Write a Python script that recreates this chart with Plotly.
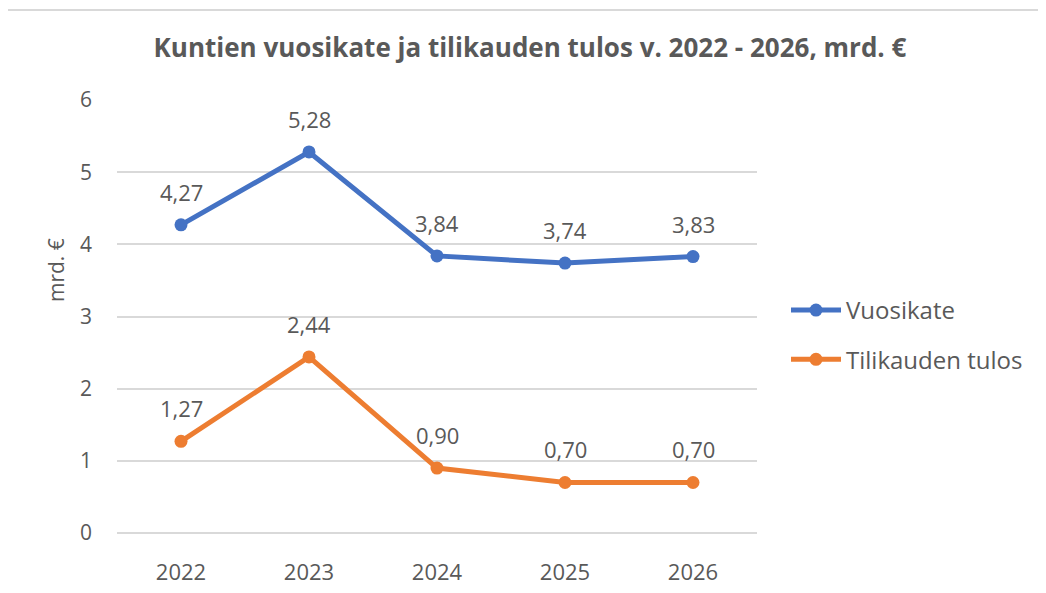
import plotly.graph_objects as go

years = ["2022", "2023", "2024", "2025", "2026"]
vuosikate = [4.27, 5.28, 3.84, 3.74, 3.83]
tilikauden_tulos = [1.27, 2.44, 0.90, 0.70, 0.70]
series_names = ["Vuosikate", "Tilikauden tulos"]
y_ticks = [0, 1, 2, 3, 4, 5, 6]

colors = ["#4472C4", "#ED7D31"]
text_color = "#595959"
font_family = "'Open Sans', Lato, sans-serif"

x_pos = list(range(len(years)))

fig = go.Figure()
annotations = []
for i, (name, vals) in enumerate(zip(series_names, [vuosikate, tilikauden_tulos])):
    fig.add_trace(go.Scatter(
        x=x_pos, y=vals, name=name, mode="lines+markers",
        line=dict(color=colors[i], width=5),
        marker=dict(color=colors[i], size=13),
        legendgroup=name,
    ))
    for xp, v in zip(x_pos, vals):
        annotations.append(dict(
            x=xp, y=v, xref="x", yref="y", text=f"{v:.2f}".replace(".", ","),
            showarrow=False, yshift=33, font=dict(size=22, color=text_color, family=font_family),
        ))

annotations.append(dict(
    x=(56 - 117) / 640, y=(533 - 270) / 433, xref="paper", yref="paper", text="mrd. €",
    xanchor="center", yanchor="middle",
    textangle=-90, showarrow=False, font=dict(size=21, color=text_color, family=font_family),
))

fig.update_layout(
    width=1046, height=593,
    margin=dict(l=109, r=297, t=92, b=68),
    paper_bgcolor="white", plot_bgcolor="white",
    font=dict(family=font_family, color=text_color, size=18),
    title=dict(
        text="<b>Kuntien vuosikate ja tilikauden tulos v. 2022 - 2026, mrd. €</b>",
        x=(530 - 8) / 1046, xanchor="center", y=1 - (48 - 8) / 593, yanchor="middle",
        font=dict(size=26, color=text_color, family=font_family),
    ),
    xaxis=dict(
        range=[-0.5, len(years) - 0.5], tickvals=x_pos, ticktext=years,
        showgrid=False, showline=False, zeroline=False, ticks="",
        tickfont=dict(size=22, color=text_color), ticklabelstandoff=24,
    ),
    yaxis=dict(
        range=[0, 6], tickvals=y_ticks, showgrid=True, gridcolor="#D9D9D9", gridwidth=1.5,
        zeroline=True, zerolinecolor="#D9D9D9", zerolinewidth=1.5, showline=False, ticks="",
        tickfont=dict(size=21, color=text_color), ticklabelstandoff=24,
    ),
    legend=dict(
        x=(786 - 117) / 640, y=(533 - 335) / 433, xanchor="left", yanchor="middle",
        font=dict(size=24, color=text_color), tracegroupgap=15, itemwidth=50,
        bgcolor="rgba(0,0,0,0)",
    ),
    showlegend=True,
    annotations=annotations,
    shapes=[dict(
        type="rect", xref="paper", yref="paper",
        x0=(7 - 117) / 640, x1=(1060 - 117) / 640,
        y0=(533 - 610) / 433, y1=(533 - 10) / 433,
        line=dict(color="#D9D9D9", width=2), fillcolor="rgba(0,0,0,0)", layer="below",
    )],
)

fig.write_html("out.html")
